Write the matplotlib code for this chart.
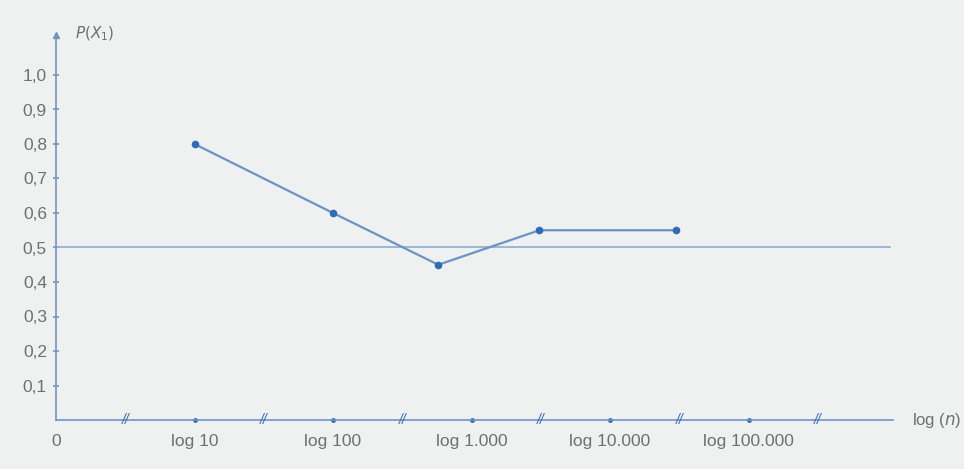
import matplotlib.pyplot as plt

# tick positions on the log(n) axis and their labels
x_ticks = [0, 1, 2, 3, 4, 5]
x_labels = ["0", "log 10", "log 100", "log 1.000", "log 10.000", "log 100.000"]
y_ticks = [0.1, 0.2, 0.3, 0.4, 0.5, 0.6, 0.7, 0.8, 0.9, 1.0]
y_labels = ["0,1", "0,2", "0,3", "0,4", "0,5", "0,6", "0,7", "0,8", "0,9", "1,0"]

# observed relative frequency of X1
log_n = [1.0, 2.0, 2.76, 3.49, 4.48]
p_x1 = [0.80, 0.60, 0.45, 0.55, 0.55]
p_theory = 0.5

axis_col = "#6f95c6"
line_col = "#6b93c4"
dot_col = "#2f6cb8"
text_col = "#707070"
bg = "#eff0f0"

plt.rcParams["font.family"] = ["Liberation Sans", "DejaVu Sans"]

fig = plt.figure(figsize=(9.64, 4.69), dpi=100)
fig.patch.set_facecolor(bg)
ax = fig.add_axes([0, 0, 1, 1])
ax.set_facecolor(bg)

# map data units onto the canvas: x -> 56 + 138.5*x px, y -> 420 - 345*y px
ax.set_xlim(-56 / 138.5, (964 - 56) / 138.5)
ax.set_ylim(-49 / 345, 420 / 345)

for s in ["top", "right"]:
    ax.spines[s].set_visible(False)
for s in ["left", "bottom"]:
    ax.spines[s].set_position(("data", 0))
    ax.spines[s].set_color(axis_col)
    ax.spines[s].set_linewidth(1.2)
y_top = 1.116
x_end = 6.04
ax.spines["left"].set_bounds(0, y_top)
ax.spines["bottom"].set_bounds(0, x_end)

# arrow head on the vertical axis
ax.plot([0], [y_top], marker="^", ms=5, color=axis_col, clip_on=False)

ax.set_yticks(y_ticks)
ax.set_yticklabels(y_labels)
ax.tick_params(axis="y", direction="inout", length=5, width=1.2, color=axis_col,
               labelsize=12.5, labelcolor=text_col, pad=4)

ax.set_xticks(x_ticks)
ax.set_xticklabels(x_labels)
ax.tick_params(axis="x", length=0, labelsize=12.5, labelcolor=text_col, pad=10)

# small dots on the axis at each tick, axis breaks in between
ax.plot(x_ticks[1:], [0] * 5, "o", ms=2.5, color=dot_col, clip_on=False)
for xb in [0.5, 1.5, 2.5, 3.5, 4.5, 5.5]:
    ax.text(xb, 0, "//", ha="center", va="center", fontsize=10, color=dot_col,
            style="italic")

# reference line at 0.5
ax.plot([0, 6.02], [p_theory, p_theory], color="#93b2d8", lw=1.3)

ax.plot(log_n, p_x1, color=line_col, lw=1.6, marker="o", ms=4.5,
        markerfacecolor=dot_col, markeredgecolor=dot_col)

ax.text(0.14, 1.12, r"$P(X_1)$", fontsize=11, color=text_col, va="center", ha="left")
ax.text(6.18, 0.0, r"log ($n$)", fontsize=12, color=text_col, va="center", ha="left")

fig.savefig("out.png", dpi=100, facecolor=bg)
